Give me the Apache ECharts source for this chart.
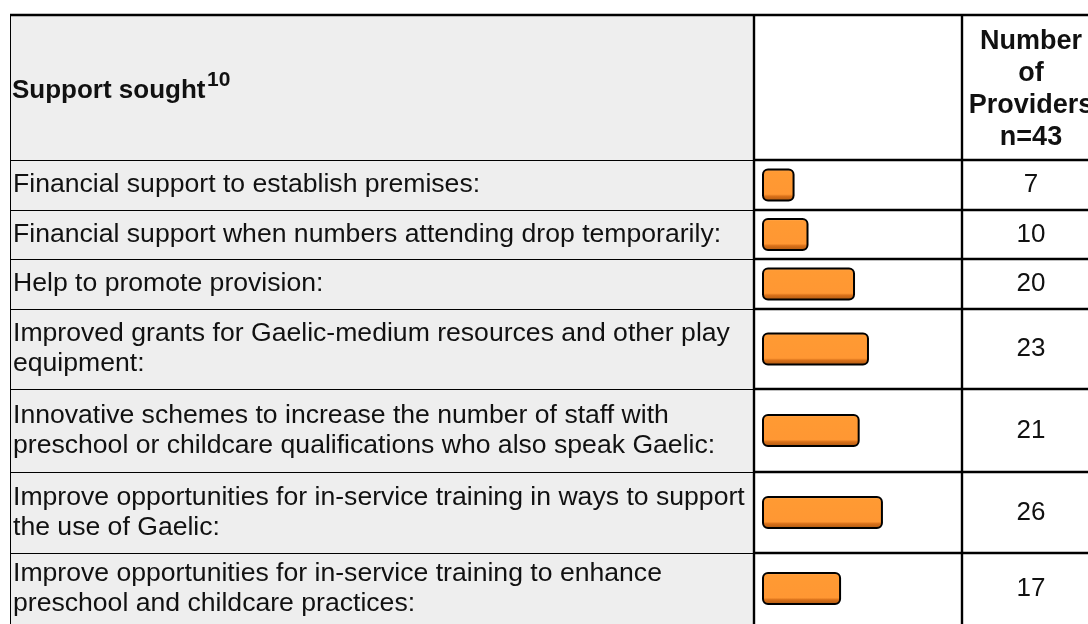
<!DOCTYPE html>
<html>
<head>
<meta charset="utf-8">
<title>Support sought</title>
<script src="https://cdn.jsdelivr.net/npm/echarts@6/dist/echarts.min.js"></script>
<style>
  html, body { margin: 0; padding: 0; background: #fff; }
  #chart { width: 1088px; height: 624px; }
</style>
</head>
<body>
<div id="chart"></div>
<script>
var categories = [
  'Financial support to establish premises:',
  'Financial support when numbers attending drop temporarily:',
  'Help to promote provision:',
  'Improved grants for Gaelic-medium resources and other play\nequipment:',
  'Innovative schemes to increase the number of staff with\npreschool or childcare qualifications who also speak Gaelic:',
  'Improve opportunities for in-service training in ways to support\nthe use of Gaelic:',
  'Improve opportunities for in-service training to enhance\npreschool and childcare practices:'
]
var providers = [7, 10, 20, 23, 21, 26, 17]
var totalProviders = 43
var headerLeft = 'Support sought'
var headerNote = '10'
var headerRight = 'Number\nof\nProviders\nn=' + totalProviders

// table layout (pixels)
var FONT = '"Liberation Sans", Arial, Helvetica, sans-serif'
var rowEdges = [160, 210, 259, 309, 389, 472, 553, 634]
var tableTop = 15
var tableLeft = 10
var colBar = 754
var colNum = 962
var tableRight = 1100

var grids = []
var xAxes = []
var yAxes = []
var series = []
var graphics = []

// cell backgrounds
graphics.push({ type: 'rect', z: -10, shape: { x: tableLeft, y: tableTop, width: colBar - tableLeft, height: 640 }, style: { fill: '#eeeeee' } })
graphics.push({ type: 'rect', z: -10, shape: { x: colBar, y: tableTop, width: tableRight - colBar, height: 640 }, style: { fill: '#ffffff' } })

// table rules
rowEdges.forEach(function(y) {
  graphics.push({ type: 'line', z: 5, shape: { x1: tableLeft, y1: y + 0.5, x2: colBar, y2: y + 0.5 }, style: { stroke: '#000', lineWidth: 1 } })
  graphics.push({ type: 'line', z: 5, shape: { x1: colBar, y1: y, x2: tableRight, y2: y }, style: { stroke: '#000', lineWidth: 2.4 } })
})
graphics.push({ type: 'line', z: 5, shape: { x1: tableLeft, y1: tableTop, x2: tableRight, y2: tableTop }, style: { stroke: '#000', lineWidth: 2.4 } })
graphics.push({ type: 'line', z: 5, shape: { x1: tableLeft + 0.5, y1: tableTop, x2: tableLeft + 0.5, y2: 640 }, style: { stroke: '#000', lineWidth: 1 } })
graphics.push({ type: 'line', z: 5, shape: { x1: colBar, y1: tableTop, x2: colBar, y2: 640 }, style: { stroke: '#000', lineWidth: 2.4 } })
graphics.push({ type: 'line', z: 5, shape: { x1: colNum, y1: tableTop, x2: colNum, y2: 640 }, style: { stroke: '#000', lineWidth: 2.4 } })

// header texts
graphics.push({
  type: 'text', z: 6, x: 12, y: 91,
  style: { text: headerLeft, font: 'bold 26px ' + FONT, fill: '#111', verticalAlign: 'middle' }
})
graphics.push({
  type: 'text', z: 6, x: 207, y: 70,
  style: { text: headerNote, font: 'bold 21px ' + FONT, fill: '#111', verticalAlign: 'top' }
})
graphics.push({
  type: 'text', z: 6, x: 1031, y: 90,
  style: { text: headerRight, font: 'bold 27px ' + FONT, fill: '#111', align: 'center', verticalAlign: 'middle', lineHeight: 32 }
})

var barColor = new echarts.graphic.LinearGradient(0, 0, 0, 1, [
  { offset: 0, color: '#ffb064' },
  { offset: 0.1, color: '#ff9a33' },
  { offset: 0.78, color: '#ff9733' },
  { offset: 0.84, color: '#d9711a' },
  { offset: 1, color: '#a85510' }
])

// one small grid per table row
categories.forEach(function(cat, i) {
  var top = rowEdges[i]
  var h = rowEdges[i + 1] - rowEdges[i]
  grids.push({ left: 762, top: top, width: colNum - 762, height: h, containLabel: false })
  xAxes.push({ type: 'value', gridIndex: i, min: 0, max: totalProviders, show: false })
  yAxes.push({
    type: 'category', gridIndex: i, position: 'left', data: [cat],
    axisLine: { show: false }, axisTick: { show: false },
    axisLabel: { align: 'left', margin: 762 - 13, color: '#111', fontSize: 26.6, lineHeight: 30, fontFamily: FONT }
  })
  yAxes.push({
    type: 'category', gridIndex: i, position: 'right', data: [String(providers[i])],
    axisLine: { show: false }, axisTick: { show: false },
    axisLabel: { align: 'center', margin: 1031 - colNum, color: '#111', fontSize: 26, fontFamily: FONT }
  })
  series.push({
    type: 'bar',
    xAxisIndex: i,
    yAxisIndex: i * 2,
    barWidth: 33,
    data: [providers[i]],
    itemStyle: { color: barColor, borderColor: '#000', borderWidth: 2, borderRadius: 5 },
    silent: true
  })
})

var chart = echarts.init(document.getElementById('chart'))
chart.setOption({
  animation: false,
  backgroundColor: '#ffffff',
  graphic: { elements: graphics },
  grid: grids,
  xAxis: xAxes,
  yAxis: yAxes,
  series: series
})
</script>
</body>
</html>
